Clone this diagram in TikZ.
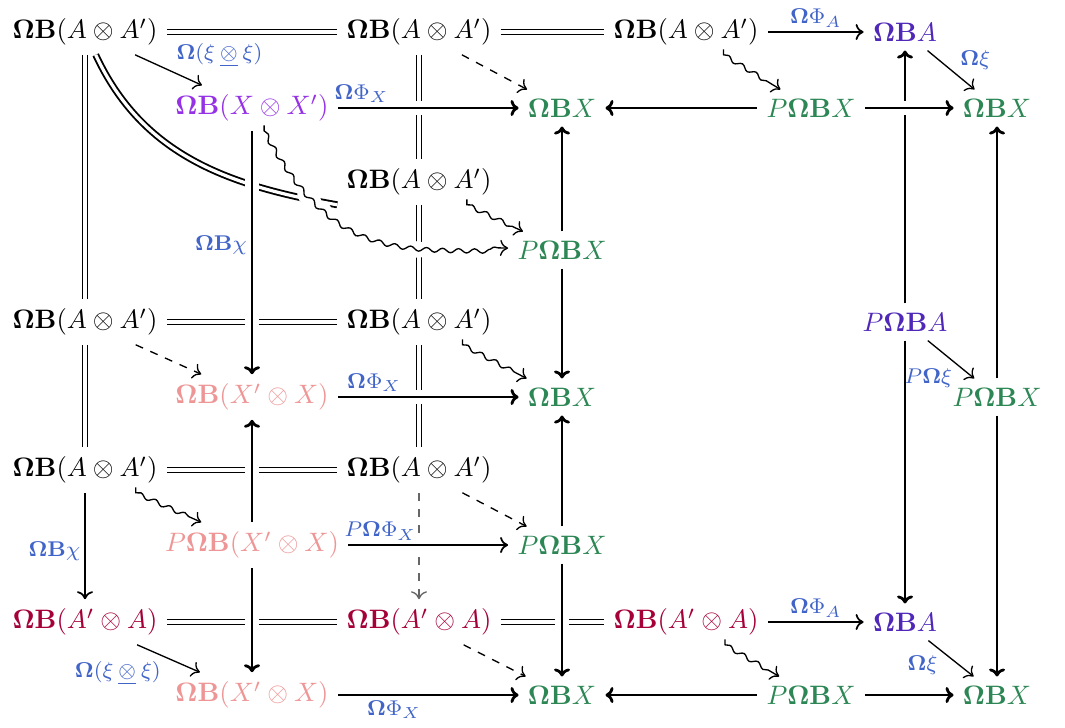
\documentclass[tikz,border=0pt]{standalone}
\usepackage{amsmath}
\usetikzlibrary{arrows.meta,decorations.pathmorphing}

\definecolor{violetX}{RGB}{150,50,230}
\definecolor{greenX}{RGB}{45,135,85}
\definecolor{pinkX}{RGB}{238,150,150}
\definecolor{crimsonA}{RGB}{165,0,55}
\definecolor{indigoA}{RGB}{80,40,185}
\definecolor{labelblue}{RGB}{65,100,200}

\newcommand{\OB}{\mathbf{\Omega B}}
\newcommand{\Om}{\mathbf{\Omega}}
\newcommand{\uxi}{\Om(\xi\mathbin{\underline{\otimes}}\xi)}

\begin{document}
\begin{tikzpicture}[x=.375pt,y=.375pt,
    >={Computer Modern Rightarrow[length=3pt,width=6pt]},
    eq/.style={double,double distance=1.2pt,line width=.7pt},
    thinar/.style={->,line width=.5pt},
    midar/.style={->,line width=.65pt},
    thickar/.style={->,line width=1.05pt},
    over/.style={preaction={draw=white,-,line width=5pt}},
    wiggle/.style={->,line width=.5pt,shorten <=2pt,decorate,
      decoration={snake,amplitude=.8pt,segment length=6pt,post length=3.5pt}},
    lab/.style={text=labelblue,font=\footnotesize,inner sep=1.5pt}]
  \useasboundingbox (0,0) rectangle (1065,-727);

  % the nodes, row by row
  \node (aa1) at (85,-32) {$\OB(A\otimes A')$};
  \node (aa2) at (419,-32) {$\OB(A\otimes A')$};
  \node (aa3) at (686,-32) {$\OB(A\otimes A')$};
  \node[indigoA] (bA1) at (905,-32) {$\OB A$};

  \node[violetX] (bXX) at (252,-108) {$\OB(X\otimes X')$};
  \node[greenX] (bX1) at (562,-108) {$\OB X$};
  \node[greenX] (pX1) at (811,-108) {$P\OB X$};
  \node[greenX] (bX2) at (997,-108) {$\OB X$};

  \node (aa4) at (419,-182) {$\OB(A\otimes A')$};
  \node[greenX] (pX2) at (562,-250) {$P\OB X$};

  \node (aa5) at (85,-322) {$\OB(A\otimes A')$};
  \node (aa6) at (419,-322) {$\OB(A\otimes A')$};
  \node[indigoA] (pA) at (905,-322) {$P\OB A$};

  \node[pinkX] (bXp1) at (252,-397) {$\OB(X'\otimes X)$};
  \node[greenX] (bX3) at (562,-397) {$\OB X$};
  \node[greenX] (pX3) at (997,-397) {$P\OB X$};

  \node (aa7) at (85,-470) {$\OB(A\otimes A')$};
  \node (aa8) at (419,-470) {$\OB(A\otimes A')$};

  \node[pinkX] (pXp) at (252,-545) {$P\OB(X'\otimes X)$};
  \node[greenX] (pX4) at (562,-545) {$P\OB X$};

  \node[crimsonA] (ab1) at (85,-622) {$\OB(A'\otimes A)$};
  \node[crimsonA] (ab2) at (419,-622) {$\OB(A'\otimes A)$};
  \node[crimsonA] (ab3) at (686,-622) {$\OB(A'\otimes A)$};
  \node[indigoA] (bA2) at (905,-622) {$\OB A$};

  \node[pinkX] (bXp2) at (252,-695) {$\OB(X'\otimes X)$};
  \node[greenX] (bX4) at (562,-695) {$\OB X$};
  \node[greenX] (pX5) at (811,-695) {$P\OB X$};
  \node[greenX] (bX5) at (997,-695) {$\OB X$};

  % equalities
  \draw[eq] (aa1) -- (aa2);
  \draw[eq] (aa2) -- (aa3);
  \draw[eq] (aa1) -- (aa5);
  \draw[eq] (aa5) -- (aa7);
  \draw[eq] (aa2) -- (aa4);
  \draw[eq] (aa4) -- (aa6);
  \draw[eq] (aa6) -- (aa8);
  \draw[eq] (aa5) -- (aa6);
  \draw[eq] (aa7) -- (aa8);
  \draw[eq] (ab1) -- (ab2);
  \draw[eq] (ab2) -- (ab3);
  \draw[eq] ([xshift=4pt]aa1.south) to[out=-65,in=170] (aa4.south west);

  % thin, dashed and wiggly arrows
  \draw[thinar] (aa1) -- node[lab,pos=.55,above right] {$\uxi$} (bXX);
  \draw[thinar,dashed] (aa2) -- (bX1);
  \draw[wiggle] (aa3) -- (pX1);
  \draw[midar] (aa3) -- node[lab,above] {$\Om\Phi_A$} (bA1);
  \draw[thinar] (bA1) -- node[lab,pos=.6,above right] {$\Om\xi$} (bX2);
  \draw[wiggle] (aa4) -- (pX2);
  \draw[wiggle] (aa6) -- (bX3);
  \draw[thinar,dashed] (aa5) -- (bXp1);
  \draw[thinar] (pA) -- node[lab,pos=.62,below left] {$P\Om\xi$} (pX3);
  \draw[wiggle] (aa7) -- (pXp);
  \draw[thinar,dashed] (aa8) -- (pX4);
  \draw[thinar,dashed,black!60] (aa8) -- (ab2);
  \draw[midar] (aa7) -- node[lab,left,pos=.55] {$\OB\chi$} (ab1);
  \draw[thinar] (ab1) -- node[lab,pos=.45,below left] {$\uxi$} (bXp2);
  \draw[thinar,dashed] (ab2) -- (bX4);
  \draw[wiggle] (ab3) -- (pX5);
  \draw[midar] (ab3) -- node[lab,above] {$\Om\Phi_A$} (bA2);
  \draw[thinar] (bA2) -- node[lab,pos=.3,below left] {$\Om\xi$} (bX5);

  % the thick arrows, some passing over others
  \draw[thickar] (pA) -- (bA1);
  \draw[thickar] (pA) -- (bA2);
  \draw[thickar] (pX3) -- (bX2);
  \draw[thickar] (pX3) -- (bX5);
  \draw[thickar] (pX2) -- (bX1);
  \draw[thickar] (pX2) -- (bX3);
  \draw[thickar] (pX4) -- (bX3);
  \draw[thickar,over] (pX4) -- (bX4);
  \draw[thickar] (pX1) -- (bX1);
  \draw[thickar,over] (pX1) -- (bX2);
  \draw[thickar] (pX5) -- (bX4);
  \draw[thickar] (pX5) -- (bX5);
  \draw[wiggle,over] (bXX) to[out=-62,in=178,out looseness=1.4] (pX2);
  \draw[thickar,over] (bXX) -- node[lab,above,pos=.13] {$\Om\Phi_X$} (bX1);
  \draw[thickar,over] (bXX) -- node[lab,left,pos=.47] {$\OB\chi$} (bXp1);
  \draw[thickar,over] (bXp1) -- node[lab,above,pos=.2] {$\Om\Phi_X$} (bX3);
  \draw[thickar,over] (pXp) -- (bXp1);
  \draw[thickar,over] (pXp) -- (bXp2);
  \draw[midar,over] (pXp) -- node[lab,above,pos=.2] {$P\Om\Phi_X$} (pX4);
  \draw[thickar] (bXp2) -- node[lab,below,pos=.31] {$\Om\Phi_X$} (bX4);
\end{tikzpicture}
\end{document}
